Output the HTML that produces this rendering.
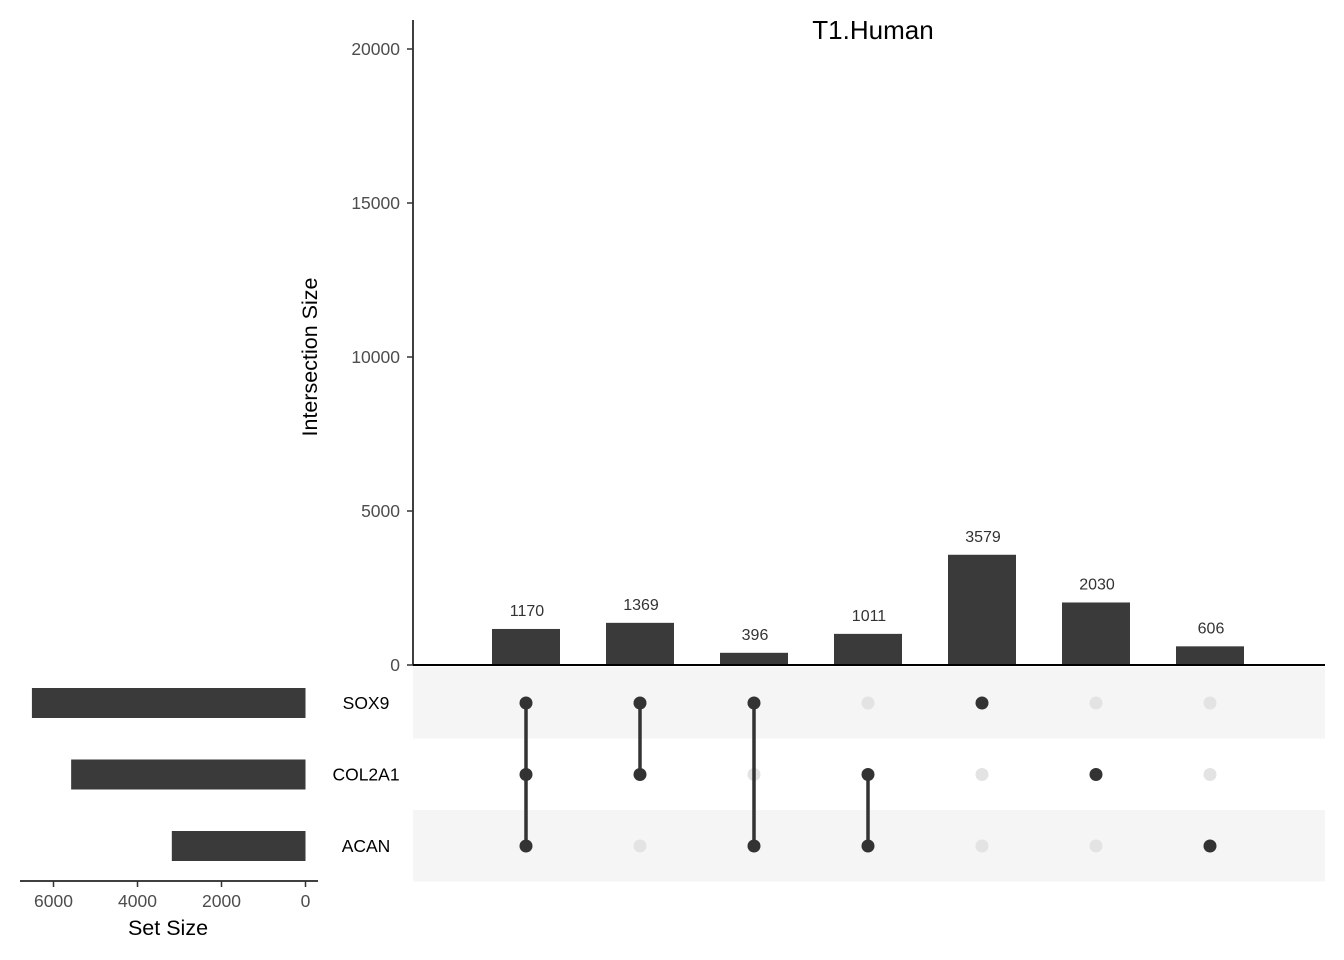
<!DOCTYPE html>
<html><head><meta charset="utf-8"><style>
body{margin:0;background:#fff;}
svg{display:block;font-family:"Liberation Sans",sans-serif;}
</style></head><body>
<svg id="c" width="1344" height="960"></svg>
<script>
const sets = ["SOX9","COL2A1","ACAN"];
const setSizes = [6514, 5580, 3183];
const interValues = [1170, 1369, 396, 1011, 3579, 2030, 606];
const interMembers = [[0,1,2],[0,1],[0,2],[1,2],[0],[1],[2]];
const yTicks = [0,5000,10000,15000,20000];
const xTicks = [0,2000,4000,6000];

const NS="http://www.w3.org/2000/svg";
const svg=document.getElementById('c');
function mk(t,a,p){const e=document.createElementNS(NS,t);for(const k in a)e.setAttribute(k,a[k]);(p||svg).appendChild(e);return e;}
const y=v=>665-v*(616/20000);
const cx=i=>526+i*114;
const ry=j=>703+j*71.5;
const sx=v=>305.5-v*(84/2000);

let t=mk('text',{x:873,y:39,'text-anchor':'middle','font-size':26,fill:'#000'});t.textContent='T1.Human';


[0,2].forEach(j=>{const r=mk('rect',{x:413,y:ry(j)-36,width:912,height:71.5,fill:'#f5f5f5'});
});

let ax=mk('line',{x1:413,y1:20,x2:413,y2:665,stroke:'#000','stroke-width':1.5});

yTicks.forEach(v=>{mk('line',{x1:407,x2:413,y1:y(v),y2:y(v),stroke:'#333','stroke-width':1.5});
const l=mk('text',{x:400,y:y(v)+6,'text-anchor':'end','font-size':17.5,fill:'#4d4d4d'});l.textContent=v;
});
let yt=mk('text',{transform:'translate(317,357) rotate(-90)','text-anchor':'middle','font-size':21.5,fill:'#000'});yt.textContent='Intersection Size';


interValues.forEach((v,i)=>{const b=mk('rect',{x:cx(i)-34,y:y(v),width:68,height:665-y(v),fill:'#3a3a3a'});

const l=mk('text',{x:cx(i)+1,y:y(v)-13,'text-anchor':'middle','font-size':16,fill:'#333'});l.textContent=v;
});
mk('line',{x1:413,y1:665,x2:1325,y2:665,stroke:'#000','stroke-width':2});

interMembers.forEach((m,i)=>{
 sets.forEach((s,j)=>{const d=mk('circle',{cx:cx(i),cy:ry(j),r:6.5,fill:m.includes(j)?'#333':'#e3e3e3'});
 });
 if(m.length>1){const ln=mk('line',{x1:cx(i),x2:cx(i),y1:ry(Math.min(...m)),y2:ry(Math.max(...m)),stroke:'#333','stroke-width':3.5});
 }
});
sets.forEach((s,j)=>{const l=mk('text',{x:366,y:ry(j)+6,'text-anchor':'middle','font-size':17.5,fill:'#000'});l.textContent=s;
});

setSizes.forEach((v,j)=>{const b=mk('rect',{x:sx(v),y:ry(j)-15,width:305.5-sx(v),height:30,fill:'#3a3a3a'});
});
mk('line',{x1:20,x2:318,y1:881,y2:881,stroke:'#000','stroke-width':1.5});
xTicks.forEach(v=>{mk('line',{x1:sx(v),x2:sx(v),y1:881,y2:887,stroke:'#333','stroke-width':1.5});
const l=mk('text',{x:sx(v),y:907,'text-anchor':'middle','font-size':17.5,fill:'#4d4d4d'});l.textContent=v;
});
let xt=mk('text',{x:168,y:935,'text-anchor':'middle','font-size':21.5,fill:'#000'});xt.textContent='Set Size';

</script>
</body></html>
